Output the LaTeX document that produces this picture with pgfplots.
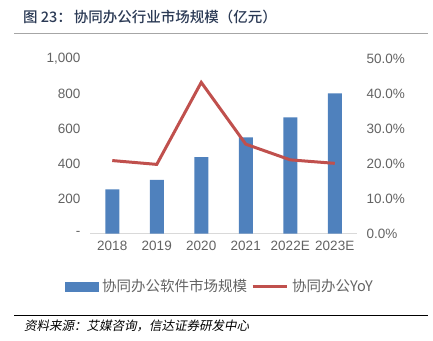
\documentclass[border=0pt]{standalone}
\usepackage{fontspec}
\setmainfont{Liberation Sans}
\newfontfamily\cjk{Noto Sans CJK SC}
\newfontfamily\cjkb{Noto Sans CJK SC Medium}
\newfontfamily\cjkit[FakeSlant=0.2]{Noto Sans CJK SC}
\usepackage{pgfplots}
\pgfplotsset{compat=1.18}
\definecolor{barblue}{HTML}{4F81BD}
\definecolor{linered}{HTML}{C0504D}
\definecolor{ticktext}{HTML}{636363}
\definecolor{titlec}{HTML}{2B3A55}
\begin{document}
\begin{tikzpicture}
\useasboundingbox (0pt,0pt) rectangle (433pt,340pt);
\node[anchor=west, text=titlec, inner sep=0pt] at (23pt,323pt) {\cjkb\fontsize{14.5}{15}\selectfont 图 23：\hspace{2pt}协同办公行业市场规模（亿元）};
\draw[gray!70, line width=1.5pt] (14pt,306.5pt) -- (428pt,306.5pt);
\draw[black, line width=0.6pt] (14pt,25pt) -- (428pt,25pt);
\node[anchor=west, inner sep=0pt] at (24pt,14pt) {\cjkit\fontsize{12.5}{13}\selectfont 资料来源：艾媒咨询，信达证券研发中心};
\begin{axis}[
  at={(90pt,106.5pt)}, anchor=south west,
  scale only axis, width=267pt, height=174.5pt,
  xmin=-0.5, xmax=5.5, ymin=0, ymax=1000,
  axis x line*=bottom, axis y line*=left,
  x axis line style={draw=gray!30, line width=0.8pt},
  y axis line style={draw=none},
  xtick={0,1,2,3,4,5},
  xticklabels={2018,2019,2020,2021,2022E,2023E},
  ytick={0,200,400,600,800,1000},
  yticklabels={-,200,400,600,800,{1,000}},
  major tick length=0pt,
  tick label style={font=\fontsize{13.5}{14}\selectfont, text=ticktext},
  xticklabel style={yshift=-4pt},
  yticklabel style={xshift=-6pt},
  ybar, bar width=14pt,
]
\addplot[fill=barblue, draw=none] coordinates {(0,253) (1,307) (2,437) (3,551) (4,666) (5,803)};
\end{axis}
\begin{axis}[
  at={(90pt,106.5pt)}, anchor=south west,
  scale only axis, width=267pt, height=174.5pt,
  xmin=-0.5, xmax=5.5, ymin=0, ymax=0.5,
  axis x line=none, axis y line*=right,
  y axis line style={draw=none},
  ytick={0,0.1,0.2,0.3,0.4,0.5},
  yticklabels={0.0\%,10.0\%,20.0\%,30.0\%,40.0\%,50.0\%},
  major tick length=0pt,
  tick label style={font=\fontsize{13.5}{14}\selectfont, text=ticktext},
  yticklabel style={xshift=6pt},
  legend style={at={(0.49,-0.304)}, anchor=center, draw=none, fill=none,
    font=\cjk\fontsize{14.5}{15}\selectfont, text=ticktext,
    nodes={inner xsep=4pt},
    /tikz/every even column/.append style={column sep=0pt}},
  legend columns=2,
]
\addlegendimage{legend image code/.code={\fill[barblue] (-2pt,-4.5pt) rectangle (31pt,4.5pt);}}
\addlegendentry{协同办公软件市场规模}
\addplot[linered, line width=3pt, mark=none, legend image code/.code={\draw[linered, line width=3pt] (0pt,0pt) -- (34pt,0pt);}] coordinates {(0,0.209) (1,0.198) (2,0.433) (3,0.256) (4,0.211) (5,0.201)};
\addlegendentry{协同办公YoY}
\end{axis}
\end{tikzpicture}
\end{document}
